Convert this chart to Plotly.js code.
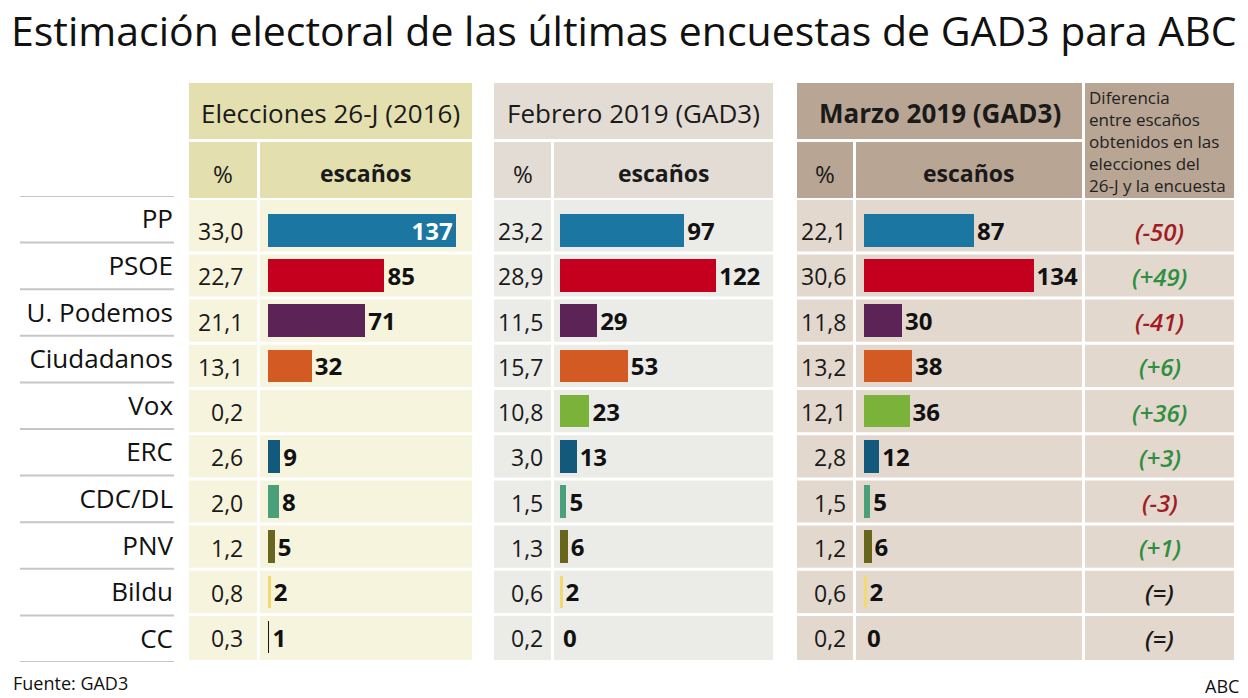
<!DOCTYPE html>
<html><head><meta charset="utf-8">
<script src="https://cdn.plot.ly/plotly-3.0.1.min.js"></script>
<style>html,body{margin:0;padding:0;background:#fff}#chart{width:1248px;height:698px}</style>
</head><body><div id="chart"></div>
<script>
// ---------- DATA ----------
const parties = ["PP","PSOE","U. Podemos","Ciudadanos","Vox","ERC","CDC/DL","PNV","Bildu","CC"];
const partyColors = ["#1b76a1","#c4001e","#5c2357","#d45a24","#7bb33a","#13597b","#4aa07a","#68661c","#f3da70","#151515"];
const pct2016 = [33.0,22.7,21.1,13.1,0.2,2.6,2.0,1.2,0.8,0.3];
const seats2016 = [137,85,71,32,0,9,8,5,2,1];
const seatLabels2016 = ["137","85","71","32","","9","8","5","2","1"];
const pctFeb2019 = [23.2,28.9,11.5,15.7,10.8,3.0,1.5,1.3,0.6,0.2];
const seatsFeb2019 = [97,122,29,53,23,13,5,6,2,0];
const pctMar2019 = [22.1,30.6,11.8,13.2,12.1,2.8,1.5,1.2,0.6,0.2];
const seatsMar2019 = [87,134,30,38,36,12,5,6,2,0];
const diffLabels = ["(-50)","(+49)","(-41)","(+6)","(+36)","(+3)","(-3)","(+1)","(=)","(=)"];
const panelTitles = ["Elecciones 26-J (2016)","Febrero 2019 (GAD3)","Marzo 2019 (GAD3)"];
const colPct = "%";
const colSeats = "escaños";
const diffTitle = "Diferencia<br>entre escaños<br>obtenidos en las<br>elecciones del<br>26-J y la encuesta";
const chartTitle = "Estimación electoral de las últimas encuestas de GAD3 para ABC";
const sourceText = "Fuente: GAD3";
const brandText = "ABC";

// ---------- GEOMETRY / STYLE ----------
const W = 1248, H = 698;
const FONT = "Open Sans, Noto Sans, sans-serif";
const X = px => px / W;
const Y = py => 1 - py / H;
const panels = [
  {left:189, split:257, right:472, barStart:268, pxPerSeat:1.37, pctRight:245, hdr:"#e4dfaf", bg:"#f6f4dd", bold:false},
  {left:494, split:551, right:773, barStart:560, pxPerSeat:1.28, pctRight:545, hdr:"#e3dcd4", bg:"#ebebe8", bold:false},
  {left:797, split:853, right:1082, barStart:864, pxPerSeat:1.265, pctRight:848, hdr:"#b9a593", bg:"#e2d8ce", bold:true}
];
const diffCol = {left:1085, right:1234, hdr:"#b9a593", bg:"#e2d8ce"};
const hdrTop = 83, hdrMid1 = 139, hdrMid2 = 142, hdrBot = 198, dataTop = 200, dataBot = 660;
const barTop = 207.7, barBot = 659.7;       // y-axis domain for bars
const lblTop = 196, lblBot = 662;           // y-axis domain for party labels
const GAP = 3;

const pctData = [pct2016, pctFeb2019, pctMar2019];
const seatData = [seats2016, seatsFeb2019, seatsMar2019];
const seatText = [seatLabels2016, seatsFeb2019.map(String), seatsMar2019.map(String)];
const fmt = v => v.toFixed(1).replace('.', ',');

const shapes = [];
const annotations = [];
const rect = (x0,x1,y0,y1,color) => shapes.push({type:'rect', xref:'paper', yref:'paper',
  x0:X(x0), x1:X(x1), y0:Y(y1), y1:Y(y0), fillcolor:color, line:{width:0}, layer:'below'});

panels.forEach((p, k) => {
  rect(p.left, p.right, hdrTop, hdrMid1, p.hdr);
  rect(p.left, p.split, hdrMid2, hdrBot, p.hdr);
  rect(p.split + GAP, p.right, hdrMid2, hdrBot, p.hdr);
  rect(p.left, p.split, dataTop, dataBot, p.bg);
  rect(p.split + GAP, p.right, dataTop, dataBot, p.bg);
  annotations.push({xref:'paper', yref:'paper', x:X((p.left+p.right)/2), y:Y((hdrTop+hdrMid1)/2+2),
    text: panelTitles[k], showarrow:false, xanchor:'center', yanchor:'middle',
    font:{family:FONT, size:26, color:'#1a1a1a', weight: p.bold ? 700 : 400}});
  annotations.push({xref:'paper', yref:'paper', x:X((p.left+p.split)/2), y:Y((hdrMid2+hdrBot)/2+3),
    text: colPct, showarrow:false, xanchor:'center', yanchor:'middle', font:{family:FONT, size:24, color:'#1a1a1a'}});
  annotations.push({xref:'paper', yref:'paper', x:X((p.split+GAP+p.right)/2), y:Y((hdrMid2+hdrBot)/2+3),
    text: colSeats, showarrow:false, xanchor:'center', yanchor:'middle', font:{family:FONT, size:23, color:'#1a1a1a', weight:700}});
  pctData[k].forEach((v, i) => annotations.push({xref:'paper', yref:'y', x:X(p.pctRight), y:parties[i],
    text: fmt(v), showarrow:false, xanchor:'right', yanchor:'middle', yshift:-1,
    font:{family:FONT, size:23, color:'#1a1a1a'}}));
});
// difference column
rect(diffCol.left, diffCol.right, hdrTop, hdrBot, diffCol.hdr);
rect(diffCol.left, diffCol.right, dataTop, dataBot, diffCol.bg);
annotations.push({xref:'paper', yref:'paper', x:X(diffCol.left+2), y:Y(hdrTop+1), text: diffTitle,
  showarrow:false, xanchor:'left', yanchor:'top', align:'left',
  font:{family:FONT, size:17, color:'#222'}});
diffLabels.forEach((t, i) => annotations.push({xref:'paper', yref:'y', x:X((diffCol.left+diffCol.right)/2), y:parties[i],
  text: t, showarrow:false, xanchor:'center', yanchor:'middle', yshift:-1,
  font:{family:FONT, size:24, style:'italic', weight:600,
    color: t.indexOf('-') >= 0 ? '#a21c24' : (t.indexOf('+') >= 0 ? '#2f8f3f' : '#1a1a1a')}}));

// white row separators across every panel
for (let k = 0; k < parties.length - 1; k++) {
  [...panels.map(p => [p.left, p.right]), [diffCol.left, diffCol.right]].forEach(([a, b]) =>
    shapes.push({type:'line', xref:'paper', yref:'y', x0:X(a), x1:X(b), y0:k+0.5, y1:k+0.5,
      line:{color:'#ffffff', width:3}, layer:'below'}));
}
// grey separators beside party names
for (let k = 0; k <= parties.length; k++) {
  shapes.push({type:'line', xref:'paper', yref:'y4', x0:X(20), x1:X(174), y0:k-0.5, y1:k-0.5,
    line:{color:'#c6c6c6', width:2}, layer:'below'});
}

// titles and footer
annotations.push({xref:'paper', yref:'paper', x:X(9), y:Y(30), text: chartTitle, showarrow:false,
  xanchor:'left', yanchor:'middle', font:{family:FONT, size:41, color:'#111'}});
annotations.push({xref:'paper', yref:'paper', x:X(11), y:Y(683), text: sourceText, showarrow:false,
  xanchor:'left', yanchor:'middle', font:{family:FONT, size:18, color:'#111'}});
annotations.push({xref:'paper', yref:'paper', x:X(1241), y:Y(686), text: brandText, showarrow:false,
  xanchor:'right', yanchor:'middle', font:{family:FONT, size:18, color:'#111'}});

// ---------- TRACES ----------
const traces = seatData.map((s, k) => ({
  type:'bar', orientation:'h', x:s, y:parties, xaxis: k === 0 ? 'x' : 'x' + (k+1), yaxis:'y',
  marker:{color: partyColors, line:{width:0}}, width:0.72,
  text: seatText[k],
  textposition: s.map((v, i) => (k === 0 && i === 0) ? 'inside' : 'outside'),
  insidetextanchor:'end', constraintext:'none', cliponaxis:false, textangle:0,
  textfont:{family:FONT, size:24, weight:700, color: s.map((v, i) => (k === 0 && i === 0) ? '#ffffff' : '#111111')},
  hoverinfo:'skip'
}));
traces.push({type:'scatter', mode:'markers', x: parties.map(() => 0), y: parties, xaxis:'x4', yaxis:'y4',
  marker:{opacity:0}, hoverinfo:'skip'});

const axisOff = {showgrid:false, zeroline:false, showticklabels:false, showline:false, ticks:'', fixedrange:true};
const layout = {
  width:W, height:H, margin:{l:0, r:0, t:0, b:0}, paper_bgcolor:'#ffffff', plot_bgcolor:'rgba(0,0,0,0)',
  showlegend:false, bargap:0,
  xaxis: {...axisOff, domain:[X(panels[0].barStart), X(panels[0].right)], range:[0, (panels[0].right-panels[0].barStart)/panels[0].pxPerSeat], anchor:'y'},
  xaxis2:{...axisOff, domain:[X(panels[1].barStart), X(panels[1].right)], range:[0, (panels[1].right-panels[1].barStart)/panels[1].pxPerSeat], anchor:'y'},
  xaxis3:{...axisOff, domain:[X(panels[2].barStart), X(panels[2].right)], range:[0, (panels[2].right-panels[2].barStart)/panels[2].pxPerSeat], anchor:'y'},
  xaxis4:{...axisOff, domain:[0, X(172)], range:[0,1], anchor:'y4'},
  yaxis: {...axisOff, type:'category', categoryarray:parties, range:[parties.length-0.5, -0.5], domain:[Y(barBot), Y(barTop)], anchor:'x'},
  yaxis4:{...axisOff, type:'category', categoryarray:parties, range:[parties.length-0.5, -0.5], domain:[Y(lblBot), Y(lblTop)],
    anchor:'free', position:X(173), side:'left', showticklabels:true, tickfont:{family:FONT, size:26, color:'#111'}},
  shapes, annotations
};
Plotly.newPlot('chart', traces, layout, {displayModeBar:false, staticPlot:true});
</script></body></html>
